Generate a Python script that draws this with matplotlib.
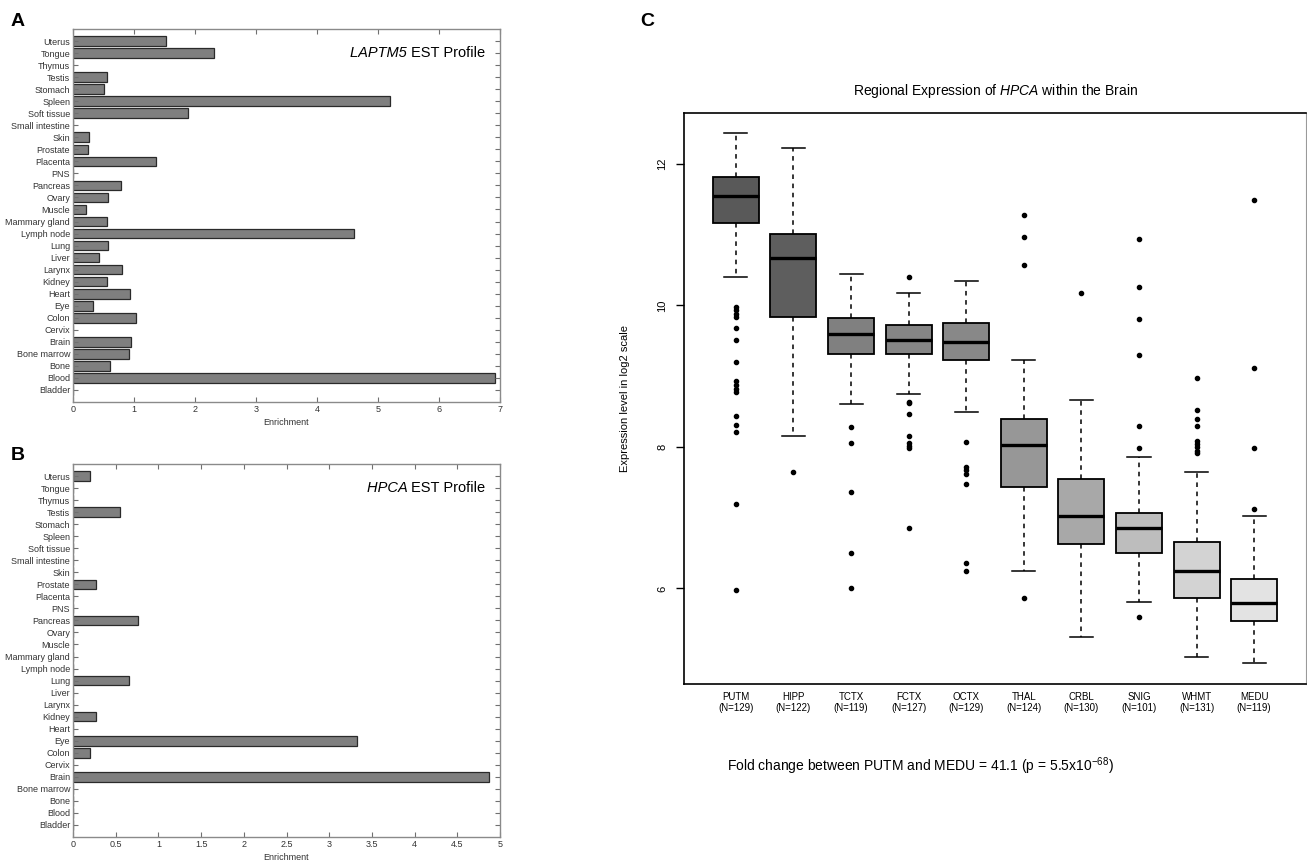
import matplotlib
matplotlib.use("Agg")
import matplotlib.pyplot as plt
import numpy as np

plt.rcParams['font.family'] = ['Liberation Sans', 'DejaVu Sans']
plt.rcParams['mathtext.fontset'] = 'custom'
plt.rcParams['mathtext.rm'] = 'Liberation Sans'
plt.rcParams['mathtext.it'] = 'Liberation Sans:italic'

# ---------------- data ----------------
tissues = ["Bladder", "Blood", "Bone", "Bone marrow", "Brain", "Cervix", "Colon", "Eye",
           "Heart", "Kidney", "Larynx", "Liver", "Lung", "Lymph node", "Mammary gland",
           "Muscle", "Ovary", "Pancreas", "PNS", "Placenta", "Prostate", "Skin",
           "Small intestine", "Soft tissue", "Spleen", "Stomach", "Testis", "Thymus",
           "Tongue", "Uterus"]
laptm5 = [0, 6.91, 0.60, 0.91, 0.95, 0, 1.04, 0.33, 0.94, 0.55, 0.80, 0.42, 0.57, 4.60,
          0.55, 0.21, 0.57, 0.78, 0, 1.36, 0.25, 0.26, 0, 1.88, 5.19, 0.51, 0.56, 0,
          2.31, 1.52]
hpca = [0, 0, 0, 0, 4.875, 0, 0.20, 3.32, 0, 0.27, 0, 0, 0.65, 0, 0, 0, 0, 0.76, 0, 0,
        0.27, 0, 0, 0, 0, 0, 0.55, 0, 0, 0.20]

regions = ["PUTM", "HIPP", "TCTX", "FCTX", "OCTX", "THAL", "CRBL", "SNIG", "WHMT", "MEDU"]
n_samples = [129, 122, 119, 127, 129, 124, 130, 101, 131, 119]
whislo = [10.40, 8.15, 8.61, 8.75, 8.49, 6.24, 5.31, 5.81, 5.03, 4.94]
q1 = [11.17, 9.84, 9.31, 9.31, 9.23, 7.44, 6.63, 6.50, 5.87, 5.54]
med = [11.54, 10.67, 9.59, 9.51, 9.49, 8.03, 7.03, 6.85, 6.25, 5.80]
q3 = [11.81, 11.01, 9.82, 9.72, 9.75, 8.39, 7.55, 7.06, 6.66, 6.13]
whishi = [12.44, 12.22, 10.44, 10.17, 10.35, 9.23, 8.66, 7.86, 7.65, 7.02]
fliers = [
    [9.98, 9.93, 9.88, 9.84, 9.68, 9.51, 9.20, 8.93, 8.88, 8.82, 8.77, 8.44, 8.31, 8.21, 7.20, 5.98],
    [7.64],
    [8.28, 8.06, 7.36, 6.50, 6.00],
    [10.40, 8.64, 8.62, 8.46, 8.16, 8.06, 8.02, 7.98, 6.85],
    [8.07, 7.72, 7.67, 7.62, 7.48, 6.36, 6.25],
    [11.28, 10.97, 10.57, 5.86],
    [10.17],
    [10.94, 10.26, 9.81, 9.30, 8.30, 7.98, 5.59],
    [8.97, 8.52, 8.40, 8.29, 8.08, 8.04, 8.00, 7.95, 7.92],
    [11.49, 9.11, 7.99, 7.13],
]
box_colors = ["#595959", "#5e5e5e", "#808080", "#858585", "#888888",
              "#979797", "#a8a8a8", "#bdbdbd", "#d3d3d3", "#e3e3e3"]

W, H = 1307, 865
fig = plt.figure(figsize=(W / 100, H / 100), dpi=100)


def frac(l, t, r, b):
    return [l / W, 1 - b / H, (r - l) / W, (b - t) / H]


def est_panel(rect, values, xmax, xticks, xticklabels, gene):
    ax = fig.add_axes(rect)
    y = np.arange(1, len(tissues) + 1)
    ax.barh(y, values, height=0.8, color="#7f7f7f", edgecolor="#2a2a2a", linewidth=0.9)
    ax.set_ylim(0, len(tissues) + 1)
    ax.set_xlim(0, xmax)
    ax.set_yticks(y)
    ax.set_yticklabels(tissues, fontsize=6.5, color="#333333")
    ax.set_xticks(xticks)
    ax.set_xticklabels(xticklabels, fontsize=6.5, color="#333333")
    ax.tick_params(direction="in", top=True, right=True, length=3.5, width=0.8,
                   color="#707070", pad=2)
    for s in ax.spines.values():
        s.set_color("#8a8a8a")
        s.set_linewidth(1.0)
    ax.set_xlabel("Enrichment", fontsize=6.5, color="#333333", labelpad=3)
    t = ax.text(0.965, 0.935, "EST Profile", transform=ax.transAxes,
                ha="right", va="center", fontsize=10.5)
    ax.annotate(gene + " ", xy=(0, 0.5), xycoords=t, ha="right", va="center",
                fontsize=10.5, style="italic")
    return ax


est_panel(frac(73, 29, 500, 402), laptm5, 7, np.arange(0, 8, 1),
          [str(v) for v in range(8)], "LAPTM5")
xb = np.arange(0, 5.01, 0.5)
est_panel(frac(73, 464, 500, 837), hpca, 5, xb,
          [("%g" % v) for v in xb], "HPCA")

fig.text(11 / W, 1 - 21 / H, "A", fontsize=14, fontweight="bold", va="center", ha="left")
fig.text(11 / W, 1 - 455 / H, "B", fontsize=14, fontweight="bold", va="center", ha="left")
fig.text(640 / W, 1 - 21 / H, "C", fontsize=14, fontweight="bold", va="center", ha="left")

# ---------------- panel C ----------------
axc = fig.add_axes(frac(684, 113, 1306, 684))
stats = []
for i in range(len(regions)):
    stats.append(dict(med=med[i], q1=q1[i], q3=q3[i], whislo=whislo[i],
                      whishi=whishi[i], fliers=fliers[i], label=regions[i]))
pos = np.arange(1, len(regions) + 1)
bp = axc.bxp(stats, positions=pos, widths=0.8, patch_artist=True, showfliers=True,
             boxprops=dict(edgecolor="black", linewidth=1.3),
             medianprops=dict(color="black", linewidth=2.4),
             whiskerprops=dict(color="black", linewidth=1.1, linestyle=(0, (3, 3))),
             capprops=dict(color="black", linewidth=1.1),
             capwidths=0.4,
             flierprops=dict(marker="o", markerfacecolor="black", markeredgecolor="black",
                             markersize=3, linestyle="none"))
for patch, c in zip(bp["boxes"], box_colors):
    patch.set_facecolor(c)
axc.set_xlim(0.1, 10.9)
axc.set_ylim(4.65, 12.72)
axc.set_xticks(pos)
axc.set_xticklabels(["%s\n(N=%d)" % (r, n) for r, n in zip(regions, n_samples)],
                    fontsize=7, linespacing=1.1)
axc.tick_params(axis="x", length=0, pad=6)
axc.set_yticks([6, 8, 10, 12])
axc.set_yticklabels(["6", "8", "10", "12"], rotation=90, va="center", fontsize=8)
axc.tick_params(axis="y", direction="out", length=6, width=1, pad=6)
for name, s in axc.spines.items():
    s.set_color("black")
    s.set_linewidth(1.2)
axc.spines["right"].set_color("#9a9a9a")
axc.spines["right"].set_linewidth(0.8)
axc.set_ylabel("Expression level in log2 scale", fontsize=8, labelpad=20)
axc.set_title(r"Regional Expression of $\mathit{HPCA}$ within the Brain", fontsize=10, pad=13)
fig.text(920 / W, 1 - 766 / H,
         r"Fold change between PUTM and MEDU = 41.1 (p = 5.5x10$^{-68}$)",
         fontsize=10, ha="center", va="center")

fig.savefig("out.png", dpi=100)
